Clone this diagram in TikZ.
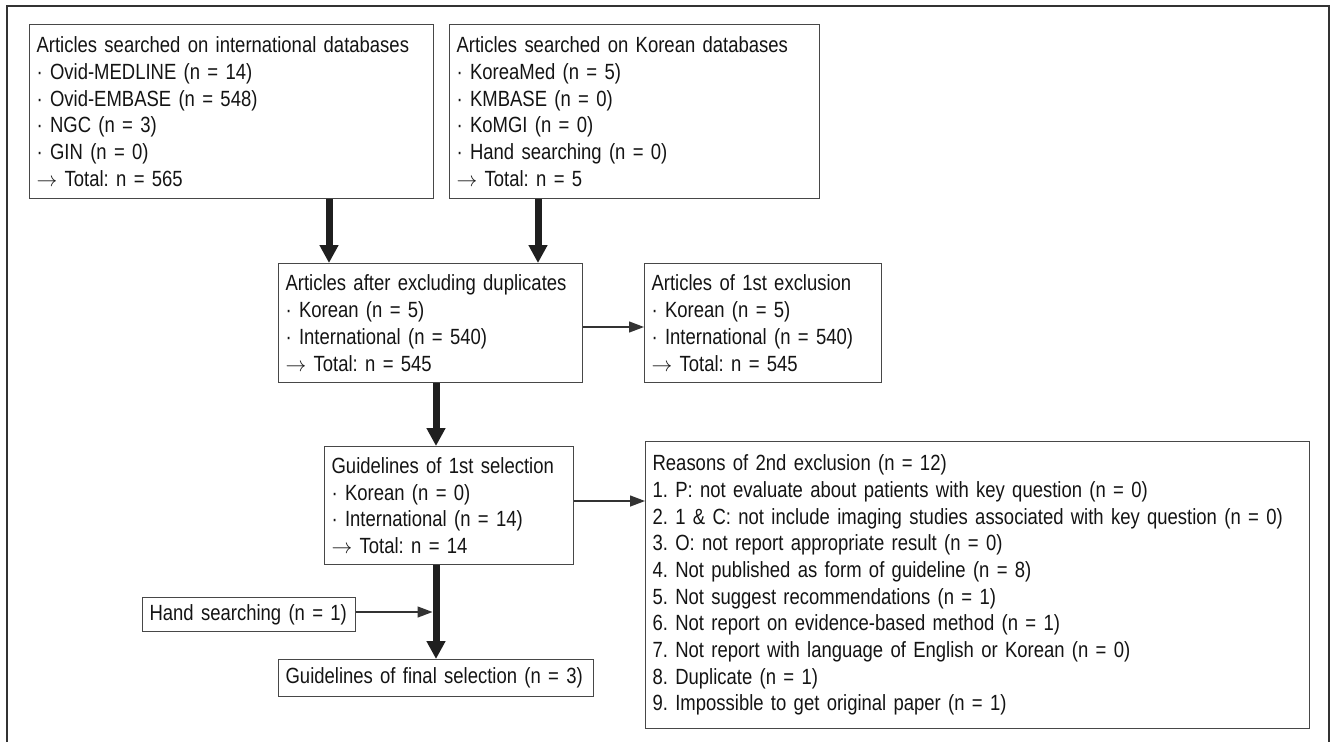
\documentclass[tikz,border=0pt]{standalone}
\usepackage{fontspec}
\setmainfont[FakeStretch=0.84]{Liberation Sans}
\usetikzlibrary{arrows.meta,calc}
\newcommand{\tot}{$\rightarrow$\ }
\frenchspacing
\begin{document}
\begin{tikzpicture}[x=1pt,y=-1pt,
  box/.style={draw=black!72, line width=1.2pt, anchor=north west, inner xsep=7pt, inner ysep=0pt, align=left, font=\fontsize{22}{26.7}\selectfont\frenchspacing, text=black!92},
  thickarrow/.style={draw=black!88, line width=7pt, -{Triangle[length=18pt,width=18pt]}},
  thinarrow/.style={draw=black!80, line width=1.3pt, -{Triangle[length=15pt,width=11pt]}},
  framelines/.style={draw=black!80, line width=1.6pt}]
\useasboundingbox (0,0) rectangle (1333,742);
\draw[framelines] (7,742) -- (7,6) -- (1329,6) -- (1329,742);

\node[box, text width=390pt, minimum height=174pt] (A) at (29,24)
  {Articles searched on international databases\\
   ·\ Ovid-MEDLINE (n = 14)\\
   ·\ Ovid-EMBASE (n = 548)\\
   ·\ NGC (n = 3)\\
   ·\ GIN (n = 0)\\
   \tot Total: n = 565};
\node[box, text width=356pt, minimum height=174pt] (B) at (449,24)
  {Articles searched on Korean databases\\
   ·\ KoreaMed (n = 5)\\
   ·\ KMBASE (n = 0)\\
   ·\ KoMGI (n = 0)\\
   ·\ Hand searching (n = 0)\\
   \tot Total: n = 5};
\node[box, text width=290pt, minimum height=119pt] (mid) at (278,263)
  {Articles after excluding duplicates\\
   ·\ Korean (n = 5)\\
   ·\ International (n = 540)\\
   \tot Total: n = 545};
\node[box, text width=223pt, minimum height=119pt] (excl) at (644,263)
  {Articles of 1st exclusion\\
   ·\ Korean (n = 5)\\
   ·\ International (n = 540)\\
   \tot Total: n = 545};
\node[box, text width=235pt, minimum height=118pt] (sel) at (324,446)
  {Guidelines of 1st selection\\
   ·\ Korean (n = 0)\\
   ·\ International (n = 14)\\
   \tot Total: n = 14};
\node[box, text width=650pt, minimum height=287pt] (reasons) at (645,441)
  {Reasons of 2nd exclusion (n = 12)\\
   1. P: not evaluate about patients with key question (n = 0)\\
   2. 1 \& C: not include imaging studies associated with key question (n = 0)\\
   3. O: not report appropriate result (n = 0)\\
   4. Not published as form of guideline (n = 8)\\
   5. Not suggest recommendations (n = 1)\\
   6. Not report on evidence-based method (n = 1)\\
   7. Not report with language of English or Korean (n = 0)\\
   8. Duplicate (n = 1)\\
   9. Impossible to get original paper (n = 1)};
\node[box, text width=199pt, minimum height=34pt] (hand) at (142,597)
  {\mbox{Hand searching (n = 1)}};
\node[box, text width=301pt, minimum height=37pt] (final) at (278,659)
  {\mbox{Guidelines of final selection (n = 3)}};

\coordinate (xa) at (329,0);
\coordinate (xb) at (538,0);
\coordinate (xc) at (436,0);
\coordinate (ya) at (0,327);
\coordinate (yb) at (0,501);
\coordinate (yc) at (0,612);

\draw[thickarrow] (xa |- A.south) -- (xa |- mid.north);
\draw[thickarrow] (xb |- B.south) -- (xb |- mid.north);
\draw[thickarrow] (xc |- mid.south) -- (xc |- sel.north);
\draw[thickarrow] (xc |- sel.south) -- (xc |- final.north);
\draw[thinarrow] (mid.east |- ya) -- (excl.west |- ya);
\draw[thinarrow] (sel.east |- yb) -- (reasons.west |- yb);
\draw[thinarrow] (hand.east |- yc) -- ($(xc |- yc)+(-3.5,0)$);
\end{tikzpicture}
\end{document}
